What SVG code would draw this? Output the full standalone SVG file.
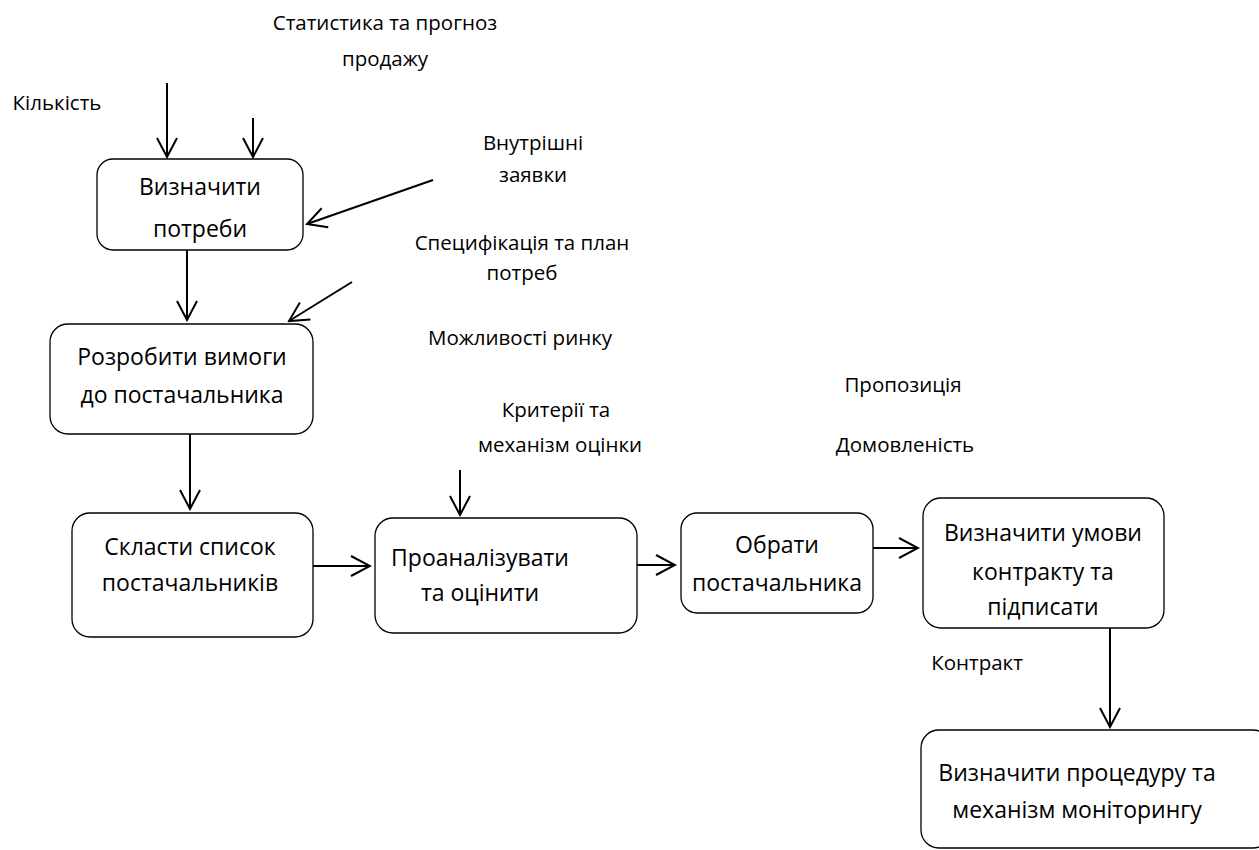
<svg xmlns="http://www.w3.org/2000/svg" width="1259" height="850" viewBox="0 0 1259 850">
<defs>
<marker id="arr" viewBox="-22 -12 24 24" refX="0" refY="0" markerWidth="24" markerHeight="24" markerUnits="userSpaceOnUse" orient="auto">
<path d="M-19,-10 L0,0 L-19,10" fill="none" stroke="#000" stroke-width="2"/>
</marker>
<style>
.box{fill:#fff;stroke:#000;stroke-width:1.3}
.nt{font-family:"Open Sans","Liberation Sans",sans-serif;font-size:23px;fill:#000;text-anchor:middle}
.lb{font-family:"Open Sans","Liberation Sans",sans-serif;font-size:20.5px;fill:#000;text-anchor:middle}
.c{stroke:#000;stroke-width:2;fill:none;marker-end:url(#arr)}
</style>
</defs>
<rect width="1259" height="850" fill="#fff"/>
<g id="labels">
<text class="lb" x="57" y="110">Кількість</text>
<text class="lb" x="385" y="30">Статистика та прогноз</text>
<text class="lb" x="385" y="66">продажу</text>
<text class="lb" x="533" y="150">Внутрішні</text>
<text class="lb" x="533" y="182">заявки</text>
<text class="lb" x="522" y="250">Специфікація та план</text>
<text class="lb" x="522" y="280">потреб</text>
<text class="lb" x="520" y="345">Можливості ринку</text>
<text class="lb" x="556" y="417">Критерії та</text>
<text class="lb" x="560" y="452">механізм оцінки</text>
<text class="lb" x="903" y="392">Пропозиція</text>
<text class="lb" x="905" y="452">Домовленість</text>
<text class="lb" x="977" y="670">Контракт</text>
</g>
<g id="n1"><rect class="box" x="97" y="159" width="206" height="91" rx="16"/>
<text class="nt" x="200" y="195">Визначити</text><text class="nt" x="200" y="237">потреби</text></g>
<g id="n2"><rect class="box" x="50" y="324" width="263" height="110" rx="18"/>
<text class="nt" x="182" y="365">Розробити вимоги</text><text class="nt" x="182" y="403">до постачальника</text></g>
<g id="n3"><rect class="box" x="72" y="513" width="241" height="124" rx="18"/>
<text class="nt" x="190" y="555">Скласти список</text><text class="nt" x="190" y="591">постачальників</text></g>
<g id="n4"><rect class="box" x="375" y="518" width="262" height="115" rx="18"/>
<text class="nt" x="480" y="566">Проаналізувати</text><text class="nt" x="480" y="601">та оцінити</text></g>
<g id="n5"><rect class="box" x="681" y="513" width="192" height="100" rx="16"/>
<text class="nt" x="777" y="553">Обрати</text><text class="nt" x="777" y="591">постачальника</text></g>
<g id="n6"><rect class="box" x="923" y="498" width="241" height="130" rx="18"/>
<text class="nt" x="1043" y="541">Визначити умови</text><text class="nt" x="1043" y="580">контракту та</text><text class="nt" x="1043" y="615">підписати</text></g>
<g id="n7"><rect class="box" x="921" y="730" width="350" height="118" rx="18"/>
<text class="nt" x="1077" y="781">Визначити процедуру та</text><text class="nt" x="1077" y="818">механізм моніторингу</text></g>
<g id="connectors">
<line class="c" x1="167" y1="83" x2="167" y2="157"/>
<line class="c" x1="253" y1="118" x2="253" y2="157"/>
<line class="c" x1="433" y1="180" x2="307" y2="224"/>
<line class="c" x1="352" y1="282" x2="289" y2="321"/>
<line class="c" x1="187" y1="250" x2="187" y2="320"/>
<line class="c" x1="190" y1="434" x2="190" y2="509"/>
<line class="c" x1="313" y1="566" x2="370" y2="566"/>
<line class="c" x1="460" y1="470" x2="460" y2="515"/>
<line class="c" x1="637" y1="565" x2="675" y2="565"/>
<line class="c" x1="873" y1="548" x2="918" y2="548"/>
<line class="c" x1="1110" y1="628" x2="1110" y2="727"/>
</g>
</svg>
